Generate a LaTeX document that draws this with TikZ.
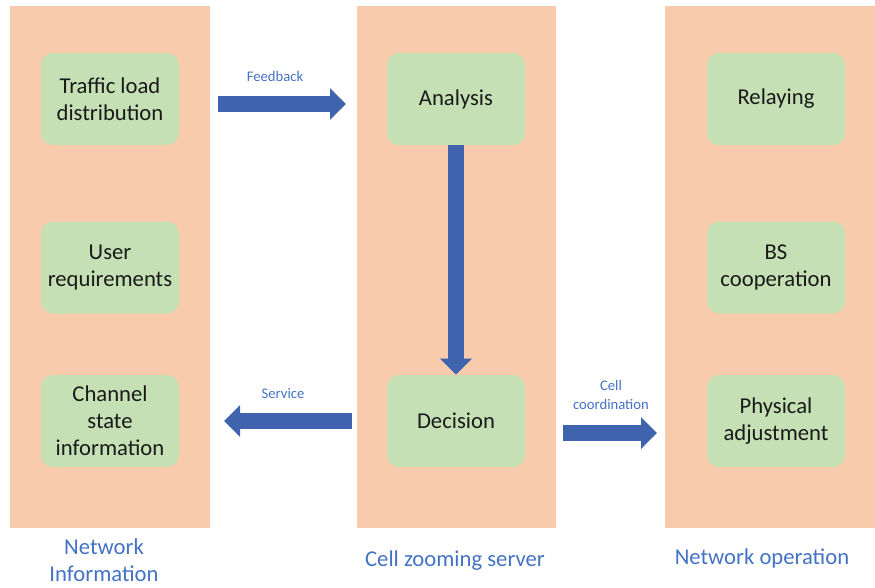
\documentclass[tikz,border=0pt]{standalone}
\usepackage{fontspec}
\setmainfont{Carlito}
\usetikzlibrary{arrows.meta}
\definecolor{colfill}{HTML}{F8CBAD}
\definecolor{boxfill}{HTML}{C5E0B4}
\definecolor{arrowblue}{HTML}{3F63AD}
\definecolor{labelblue}{HTML}{4472C4}
\definecolor{boxtext}{HTML}{1A1A1A}
\begin{document}
\begin{tikzpicture}[x=0.75pt,y=-0.75pt,
  column/.style={fill=colfill},
  task/.style={fill=boxfill, rounded corners=9pt, minimum width=103.5pt,
    minimum height=69pt, inner sep=0pt, align=center, text=boxtext,
    font=\fontsize{17}{20.25}\selectfont},
  flow/.style={draw=arrowblue, line width=12pt,
    -{Triangle[length=12pt,width=23.25pt]}},
  flowlabel/.style={text=labelblue, align=center, inner sep=0pt,
    font=\fontsize{11}{14.25}\selectfont},
  title/.style={text=labelblue, align=center, inner sep=0pt,
    font=\fontsize{17}{20.25}\selectfont}]
  \useasboundingbox (0,0) rectangle (875,587);

  % three panels
  \fill[column] (10,6) rectangle (210,528);
  \fill[column] (357,6) rectangle (556,528);
  \fill[column] (665,6) rectangle (875,528);

  % network information
  \node[task] (traffic) at (110,99) {Traffic load\\distribution};
  \node[task] (user) at (110,267.5) {User\\requirements};
  \node[task] (channel) at (110,421) {Channel\\state\\information};

  % cell zooming server
  \node[task] (analysis) at (456,99) {Analysis};
  \node[task] (decision) at (456,421) {Decision};

  % network operation
  \node[task] (relay) at (776,99) {Relaying};
  \node[task] (bscoop) at (776,267.5) {BS\\cooperation};
  \node[task] (phys) at (776,421) {Physical\\adjustment};

  % arrow end points
  \coordinate (fbstart) at (218,104);
  \coordinate (fbend) at (346,104);
  \coordinate (svstart) at (352,421);
  \coordinate (svend) at (224,421);
  \coordinate (ccstart) at (563,433);
  \coordinate (ccend) at (657,433);

  \draw[flow] (fbstart) -- (fbend);
  \draw[flow] (analysis.south) -- (decision.north);
  \draw[flow] (svstart) -- (svend);
  \draw[flow] (ccstart) -- (ccend);

  % arrow labels
  \node[flowlabel] (fblabel) at (275,76) {Feedback};
  \node[flowlabel] (svlabel) at (283,393) {Service};
  \node[flowlabel] (cclabel) at (611,395) {Cell\\coordination};

  % panel titles
  \node[title] (t1) at (104,560.5) {Network\\Information};
  \node[title] (t2) at (455,561) {Cell zooming server};
  \node[title] (t3) at (762,558) {Network operation};
\end{tikzpicture}
\end{document}
